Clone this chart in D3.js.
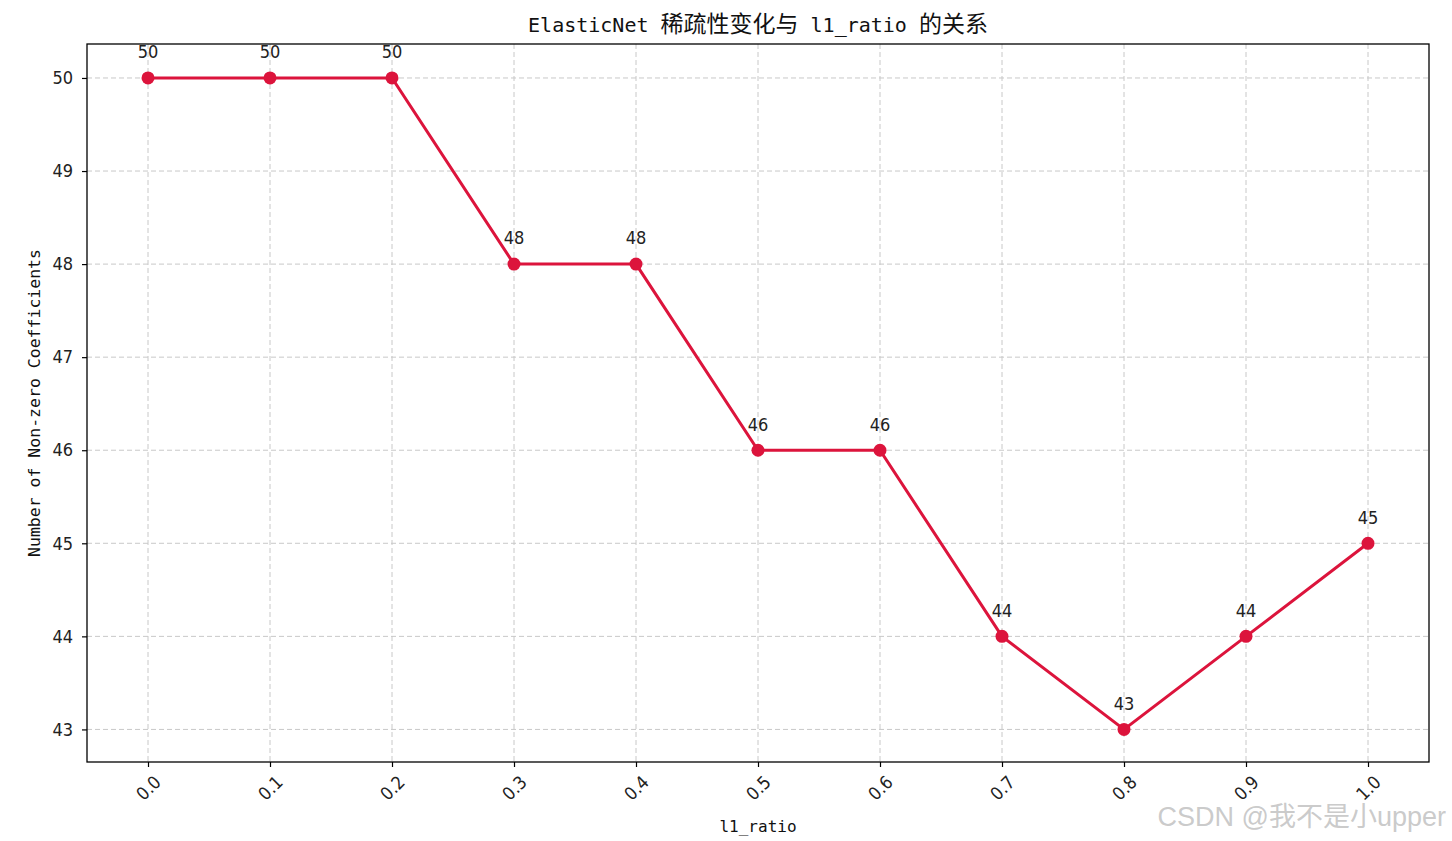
<!DOCTYPE html>
<html>
<head>
<meta charset="utf-8">
<script src="https://cdn.jsdelivr.net/npm/d3@7"></script>
<style>
  body { margin:0; background:#fff; }
  svg text { font-family:"DejaVu Sans Mono","Noto Sans CJK SC",monospace; }
  .num { font-family:"Liberation Sans Narrow","DejaVu Sans Condensed","Liberation Sans",sans-serif !important; }
</style>
</head>
<body>
<svg id="chart" width="1452" height="841"></svg>
<script>
// values
var ratios = [0.0, 0.1, 0.2, 0.3, 0.4, 0.5, 0.6, 0.7, 0.8, 0.9, 1.0]
var nonZero = [50, 50, 50, 48, 48, 46, 46, 44, 43, 44, 45]
var xTickLabels = ['0.0','0.1','0.2','0.3','0.4','0.5','0.6','0.7','0.8','0.9','1.0']
var yTicks = [43, 44, 45, 46, 47, 48, 49, 50]

var margin = { left:87, right:1429, top:44, bottom:762 }
var svg = d3.select('#chart')

var x = d3.scaleLinear().domain([-0.05, 1.05]).range([margin.left, margin.right])
var y = d3.scaleLinear().domain([42.65, 50.365]).range([margin.bottom, margin.top])

// grid
var grid = svg.append('g')
    .attr('stroke', '#c8c8c8')
    .attr('stroke-dasharray', '5,3')
    .attr('stroke-width', 1)
grid.selectAll('.gx').data(ratios).enter().append('line')
    .attr('x1', d=> x(d)).attr('x2', d=> x(d))
    .attr('y1', margin.top).attr('y2', margin.bottom)
grid.selectAll('.gy').data(yTicks).enter().append('line')
    .attr('y1', d=> y(d)).attr('y2', d=> y(d))
    .attr('x1', margin.left).attr('x2', margin.right)

// axes
var xAxis = svg.append('g')
    .attr('transform', 'translate(0,' + margin.bottom + ')')
    .call(d3.axisBottom(x).tickValues(ratios).tickSize(5).tickFormat((d, i)=> xTickLabels[i]))
xAxis.select('.domain').remove()
xAxis.selectAll('line').attr('stroke', '#000').attr('stroke-width', 1.2)
xAxis.selectAll('text')
    .attr('class', 'num')
    .attr('font-size', 18)
    .attr('fill', '#222')
    .attr('text-anchor', 'middle')
    .attr('y', 0).attr('dy', '0.35em')
    .attr('transform', 'translate(0,26) rotate(-45)')

var yAxis = svg.append('g')
    .attr('transform', 'translate(' + margin.left + ',0)')
    .call(d3.axisLeft(y).tickValues(yTicks).tickSize(5).tickFormat(d3.format('d')))
yAxis.select('.domain').remove()
yAxis.selectAll('line').attr('stroke', '#000').attr('stroke-width', 1.2)
yAxis.selectAll('text')
    .attr('class', 'num')
    .attr('font-size', 18)
    .attr('fill', '#222')
    .attr('x', -14)

svg.append('rect')
    .attr('x', margin.left).attr('y', margin.top)
    .attr('width', margin.right - margin.left)
    .attr('height', margin.bottom - margin.top)
    .attr('fill', 'none')
    .attr('stroke', '#000')
    .attr('stroke-width', 1.3)

// line + markers
var pts = ratios.map((r, i)=> [r, nonZero[i]])
svg.append('path')
    .datum(pts)
    .attr('fill', 'none')
    .attr('stroke', '#DC143C')
    .attr('stroke-width', 3)
    .attr('d', d3.line().x(d=> x(d[0])).y(d=> y(d[1])))

svg.selectAll('.dot').data(pts).enter().append('circle')
    .attr('cx', d=> x(d[0])).attr('cy', d=> y(d[1]))
    .attr('r', 6.5)
    .attr('fill', '#DC143C')

svg.selectAll('.ann').data(pts).enter().append('text')
    .attr('class', 'num')
    .attr('x', d=> x(d[0])).attr('y', d=> y(d[1]) - 26)
    .attr('text-anchor', 'middle')
    .attr('dy', '0.35em')
    .attr('font-size', 18)
    .attr('fill', '#222')
    .text(d=> d[1])

// title
var title = svg.append('text')
    .attr('x', (margin.left + margin.right) / 2)
    .attr('y', 32)
    .attr('text-anchor', 'middle')
    .attr('fill', '#111')
var titleParts = [
    ['ElasticNet ', 'DejaVu Sans Mono', 20],
    ['稀疏性变化与', 'Noto Sans CJK SC', 23],
    [' l1_ratio ', 'DejaVu Sans Mono', 20],
    ['的关系', 'Noto Sans CJK SC', 23]
]
titleParts.forEach(p=> {
    title.append('tspan')
        .style('font-family', '"' + p[1] + '"')
        .attr('font-size', p[2])
        .text(p[0])
})

// axis labels
svg.append('text')
    .attr('x', (margin.left + margin.right) / 2)
    .attr('y', 832)
    .attr('text-anchor', 'middle')
    .attr('font-size', 16)
    .attr('fill', '#111')
    .text('l1_ratio')

svg.append('text')
    .attr('transform', 'translate(40,' + ((margin.top + margin.bottom) / 2) + ') rotate(-90)')
    .attr('text-anchor', 'middle')
    .attr('font-size', 16.5)
    .attr('fill', '#111')
    .text('Number of Non-zero Coefficients')

// watermark
svg.append('text')
    .attr('x', 1446)
    .attr('y', 826)
    .attr('text-anchor', 'end')
    .attr('font-size', 27)
    .attr('fill', '#c4c4c4')
    .attr('fill-opacity', 0.9)
    .style('font-family', '"Liberation Sans","Noto Sans CJK SC",sans-serif')
    .text('CSDN @我不是小upper')
</script>
</body>
</html>
